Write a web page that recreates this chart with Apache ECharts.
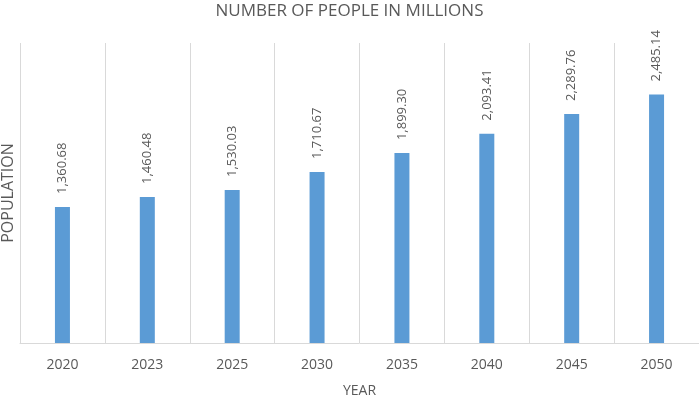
<!DOCTYPE html>
<html>
<head>
<meta charset="utf-8">
<script src="https://cdn.jsdelivr.net/npm/echarts@6/dist/echarts.min.js"></script>
<style>
  html, body { margin: 0; padding: 0; background: #fff; }
  #chart { width: 699px; height: 399px; }
</style>
</head>
<body>
<div id="chart"></div>
<script>
var years = ['2020', '2023', '2025', '2030', '2035', '2040', '2045', '2050'];
var population = [1360.68, 1460.48, 1530.03, 1710.67, 1899.30, 2093.41, 2289.76, 2485.14];

var chart = echarts.init(document.getElementById('chart'));

function fmt(v) {
  return v.toLocaleString('en-US', { minimumFractionDigits: 2, maximumFractionDigits: 2 });
}

var option = {
  animation: false,
  backgroundColor: '#ffffff',
  title: {
    text: 'NUMBER OF PEOPLE IN MILLIONS',
    left: 'center',
    top: -2,
    textStyle: {
      fontFamily: 'Open Sans',
      fontSize: 17,
      fontWeight: 'normal',
      color: '#595959'
    }
  },
  grid: {
    left: 20,
    right: 0,
    top: 43,
    bottom: 56,
    outerBoundsMode: 'none',
    containLabel: false
  },
  xAxis: {
    type: 'category',
    data: years,
    name: 'YEAR',
    nameLocation: 'middle',
    nameGap: 41,
    nameTextStyle: { fontFamily: 'Open Sans', fontSize: 14, color: '#595959' },
    axisLine: { lineStyle: { color: '#d9d9d9' } },
    axisTick: { show: false },
    axisLabel: {
      margin: 15,
      fontFamily: 'Open Sans',
      fontSize: 14,
      color: '#595959'
    },
    splitLine: { show: true, lineStyle: { color: '#d9d9d9' } }
  },
  yAxis: {
    type: 'value',
    min: 0,
    max: 3000,
    name: 'POPULATION',
    nameLocation: 'middle',
    nameGap: 4,
    nameTextStyle: { fontFamily: 'Open Sans', fontSize: 16, color: '#595959' },
    axisLine: { show: false },
    axisTick: { show: false },
    axisLabel: { show: false },
    splitLine: { show: false }
  },
  series: [{
    type: 'bar',
    data: population,
    barWidth: 15,
    itemStyle: { color: '#5b9bd5' },
    label: {
      show: true,
      position: 'top',
      rotate: 90,
      align: 'left',
      verticalAlign: 'middle',
      distance: 13,
      fontFamily: 'Open Sans',
      fontSize: 13,
      color: '#595959',
      formatter: function (p) { return fmt(p.value); }
    }
  }]
};

chart.setOption(option);
</script>
</body>
</html>
